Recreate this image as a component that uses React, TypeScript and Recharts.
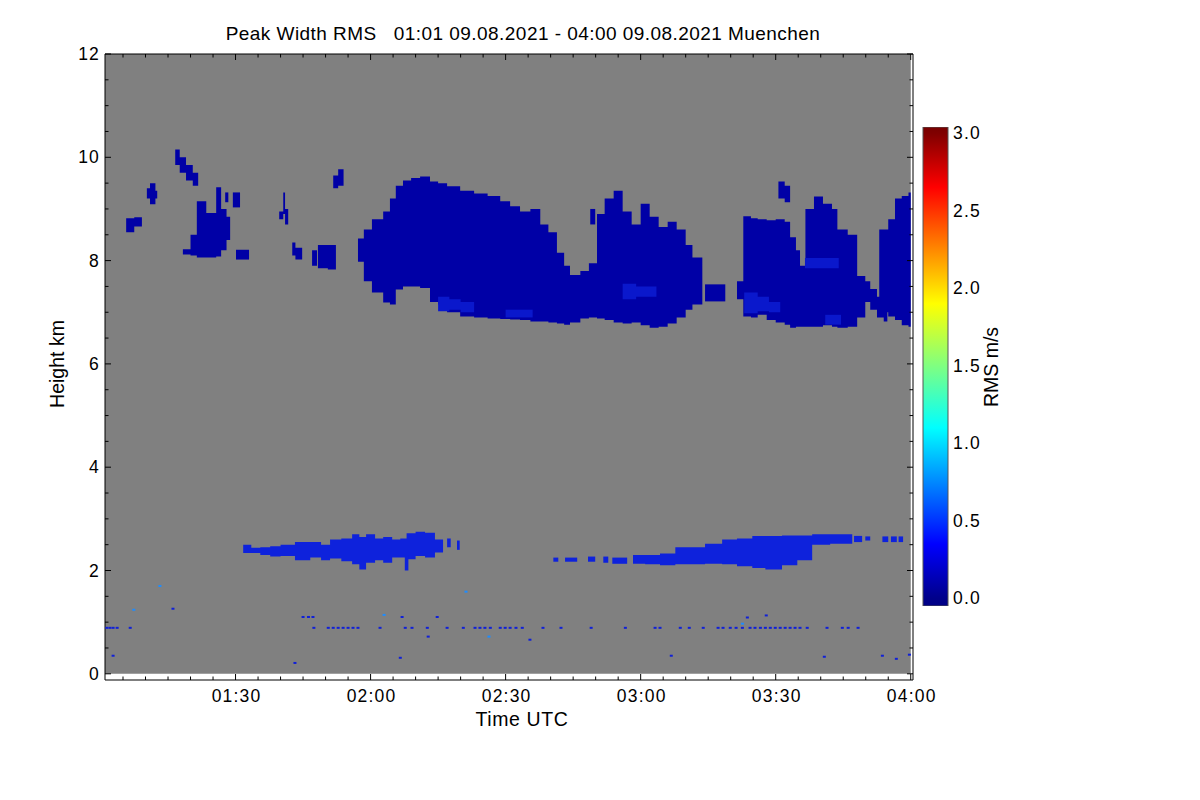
import { Area, Bar, BarChart, ComposedChart, Scatter, XAxis, YAxis } from 'recharts';

// rows are [minute after 00:00 UTC, base km, top km]; a lone [minute] closes the piece
type Row = number[];

const FONT = '"Liberation Sans", Arial, Helvetica, sans-serif';
const GRAY = '#808080';
const CLOUD = '#0000a6';
const BRIGHT = '#0a18cc';
const LOW = '#0e22dc';
const DOT = '#1020d8';
const DOT_LIGHT = '#1e8cff';

const timeTicks = [65, 70, 75, 80, 85, 90, 95, 100, 105, 110, 115, 120, 125, 130, 135, 140, 145, 150, 155, 160, 165, 170, 175, 180, 185, 190, 195, 200, 205, 210, 215, 220, 225, 230, 235, 240];
const heightTicks = [0, 0.5, 1, 1.5, 2, 2.5, 3, 3.5, 4, 4.5, 5, 5.5, 6, 6.5, 7, 7.5, 8, 8.5, 9, 9.5, 10, 10.5, 11, 11.5, 12];
const rmsTicks = [0, 0.5, 1, 1.5, 2, 2.5, 3];

const background: Row[] = [[61, 0, 12], [240]];

// upper cloud layer, 7-10 km
const cellA: Row[] = [[65.7, 8.55, 8.82], [67.5, 8.66, 8.84], [69.2]];
const cellB: Row[] = [[70.3, 9.2, 9.4], [71, 9.09, 9.5], [72.2, 9.2, 9.35], [72.6]];
const streakC: Row[] = [[76.6, 9.85, 10.15], [77.6, 9.7, 10.0], [79, 9.55, 9.85], [80.5, 9.45, 9.7], [81.7]];
const cellD: Row[] = [[78.3, 8.12, 8.22], [80, 8.1, 8.5], [81.4, 8.06, 9.15], [83.5, 8.06, 8.92], [85.7, 8.08, 9.42], [86.8, 8.2, 9.0], [88, 8.4, 8.85], [88.8]];
const cellD2: Row[] = [[87.7, 9.13, 9.32], [88.4]];
const cellE2: Row[] = [[89.4, 9.03, 9.32], [91]];
const cellF2: Row[] = [[90.1, 8.02, 8.21], [93]];
const streakE: Row[] = [[99.7, 8.8, 8.95], [100.6, 8.9, 9.32], [101, 8.7, 9.0], [101.7]];
const cellF: Row[] = [[102.6, 8.1, 8.35], [103.3, 8.02, 8.25], [104.8]];
const cellF3: Row[] = [[107, 7.9, 8.2], [108.1]];
const cellG: Row[] = [[108.3, 7.85, 8.3], [110.5, 7.83, 8.3], [112.3]];
const cellH: Row[] = [[111.7, 9.4, 9.65], [112.8, 9.45, 9.77], [114]];
const mainCloud: Row[] = [
    [117.2, 7.98, 8.43], [118.5, 7.6, 8.6], [120.3, 7.38, 8.8], [122.8, 7.19, 8.95], [124.3, 7.15, 9.2],
    [125.6, 7.44, 9.45], [127.2, 7.5, 9.55], [129, 7.5, 9.6], [131, 7.47, 9.63], [133.2, 7.2, 9.53],
    [135, 7.15, 9.5], [137, 7.0, 9.44], [139.9, 6.92, 9.35], [143, 6.9, 9.3], [146, 6.88, 9.25],
    [148.8, 6.87, 9.15], [151, 6.86, 9.05], [153.2, 6.85, 8.95], [155.5, 6.82, 9.0], [157.7, 6.82, 8.7],
    [159.5, 6.8, 8.55], [161.4, 6.78, 8.15], [163, 6.76, 7.9], [164.3, 6.8, 7.72], [166.6, 6.88, 7.8],
    [168.5, 6.9, 7.95], [170.3, 6.88, 8.9], [172, 6.85, 9.2], [174, 6.8, 9.35], [176, 6.78, 8.95],
    [178, 6.8, 8.7], [180, 6.75, 9.1], [182, 6.7, 8.85], [184, 6.72, 8.65], [186, 6.78, 8.75],
    [188, 6.9, 8.6], [190, 7.05, 8.3], [191.5, 7.15, 8.06], [193.7],
];
const cellJ: Row[] = [[168.8, 8.7, 9.0], [169.9]];
const cellI: Row[] = [[194.3, 7.21, 7.54], [198.8]];
const eastCloud: Row[] = [
    [201.4, 7.25, 7.6], [202.8, 6.92, 8.86], [204.5, 6.9, 8.82], [206, 6.95, 8.8], [208, 6.85, 8.78],
    [210, 6.8, 8.8], [212, 6.76, 8.75], [213.2, 6.7, 8.45], [214.5, 6.72, 8.2], [215.4, 6.72, 7.9],
    [216.6, 6.72, 9.0], [218.5, 6.72, 9.24], [220.5, 6.75, 9.1], [222.5, 6.72, 9.0], [223.7, 6.7, 8.6],
    [226, 6.72, 8.5], [228.1, 6.9, 7.7], [229.9],
];
const eastTop: Row[] = [[210.6, 9.2, 9.53], [212, 9.13, 9.45], [213.2]];
const eastStreak: Row[] = [[229.5, 7.2, 7.6], [231, 7.05, 7.45], [232.5, 6.9, 7.3], [234, 6.82, 7.1], [234.8]];
const edgeCloud: Row[] = [[233, 7.0, 8.6], [235, 6.92, 8.8], [236.5, 6.85, 9.2], [238, 6.75, 9.25], [239.5, 6.72, 9.32], [240]];

// brighter patches near the cloud base
const patch1: Row[] = [[135, 7.02, 7.3], [137.5, 7.05, 7.25], [140, 7.0, 7.2], [143]];
const patch2: Row[] = [[150, 6.9, 7.05], [156]];
const patch3: Row[] = [[176, 7.25, 7.55], [179, 7.3, 7.5], [183.5]];
const patch4: Row[] = [[203, 6.98, 7.38], [206, 7.02, 7.3], [208.5, 7.0, 7.2], [211]];
const patch5: Row[] = [[216.5, 7.85, 8.05], [224]];
const patch6: Row[] = [[221, 6.76, 6.95], [224.5]];

// lower layer, 2-2.8 km
const lowBand1: Row[] = [
    [91.7, 2.34, 2.5], [93.5, 2.34, 2.44], [95.5, 2.3, 2.45], [97.7, 2.27, 2.47], [100, 2.28, 2.5],
    [103.2, 2.2, 2.55], [106.6, 2.25, 2.55], [109, 2.2, 2.5], [111, 2.23, 2.6], [113.5, 2.18, 2.62],
    [115.9, 2.12, 2.7], [117.5, 2.02, 2.65], [119, 2.15, 2.7], [121, 2.2, 2.62], [122.8, 2.15, 2.65],
    [124.8, 2.25, 2.6], [126.6, 2.25, 2.62], [128, 2.22, 2.72], [130, 2.28, 2.75], [132.1, 2.25, 2.73],
    [134.3, 2.35, 2.6], [136.1],
];
const lowSpike: Row[] = [[127.6, 2.0, 2.3], [128.4]];
const lowBit1: Row[] = [[137, 2.45, 2.62], [137.8]];
const lowBit2: Row[] = [[139.2, 2.4, 2.58], [139.8]];
const lowBit3: Row[] = [[160.6, 2.17, 2.25], [161.7]];
const lowBit4: Row[] = [[163.2, 2.17, 2.25], [165.9]];
const lowBit5: Row[] = [[168.3, 2.17, 2.27], [169.9]];
const lowBit6: Row[] = [[171.7, 2.15, 2.27], [172.8]];
const lowBit7: Row[] = [[173.7, 2.13, 2.25], [177]];
const lowBand2: Row[] = [
    [178.3, 2.13, 2.3], [181, 2.12, 2.3], [184.3, 2.1, 2.33], [187.7, 2.12, 2.45], [191, 2.12, 2.45],
    [194.3, 2.13, 2.52], [198.1, 2.12, 2.6], [201.4, 2.08, 2.62], [204.8, 2.05, 2.67], [207.7, 2.02, 2.67],
    [211.4, 2.1, 2.68], [214.8, 2.2, 2.68], [218.1, 2.5, 2.7], [222.1, 2.52, 2.7], [227],
];
const lowBit8: Row[] = [[227.4, 2.55, 2.67], [229.2]];
const lowBit9: Row[] = [[229.9, 2.58, 2.66], [231]];
const lowBit10: Row[] = [[233.7, 2.55, 2.66], [235]];
const lowBit11: Row[] = [[235.6, 2.55, 2.66], [236.9]];
const lowBit12: Row[] = [[237.3, 2.55, 2.66], [238.3]];

// isolated returns
const rowMinutes = [
    61.4, 62.1, 62.8, 63.7, 66.6, 107.4, 110.6, 111.7, 112.8, 113.9, 115, 116.1, 117.2, 122.1, 127.7,
    129.2, 132.6, 137, 140.6, 143.2, 144.3, 145.4, 146.6, 148.8, 149.9, 151, 152.3, 153.7, 158.3, 162.3,
    169, 176.6, 183.2, 184.3, 188.8, 190.8, 193.9, 197.2, 198.3, 199.9, 201.2, 202.6, 204.3, 205.4, 206.6,
    207.7, 208.8, 209.9, 211, 212.1, 213.2, 214.3, 215.4, 217, 221.4, 224.8, 226.1, 228.3,
];
const rowKm = 0.89;
const strayMinutes = [62.8, 76.1, 103.2, 105, 106.2, 107.2, 126.6, 127, 132.8, 134.8, 155.4, 186.8, 203.7, 207.9, 220.8, 233.7, 236.8, 239.7];
const strayKm = [0.35, 1.26, 0.21, 1.1, 1.1, 1.1, 0.31, 1.1, 0.72, 1.1, 0.66, 0.35, 1.09, 1.13, 0.33, 0.35, 0.29, 0.37];
const lightMinutes = [67.4, 73.2, 123, 141.2, 146.3, 202.6];
const lightKm = [1.24, 1.7, 1.14, 1.59, 0.72, 0.97];

const layers: { key: string; rows: Row[]; fill: string }[] = [
    { key: 'bg', rows: background, fill: GRAY },
    { key: 'cellA', rows: cellA, fill: CLOUD },
    { key: 'cellB', rows: cellB, fill: CLOUD },
    { key: 'streakC', rows: streakC, fill: CLOUD },
    { key: 'cellD', rows: cellD, fill: CLOUD },
    { key: 'cellD2', rows: cellD2, fill: CLOUD },
    { key: 'cellE2', rows: cellE2, fill: CLOUD },
    { key: 'cellF2', rows: cellF2, fill: CLOUD },
    { key: 'streakE', rows: streakE, fill: CLOUD },
    { key: 'cellF', rows: cellF, fill: CLOUD },
    { key: 'cellF3', rows: cellF3, fill: CLOUD },
    { key: 'cellG', rows: cellG, fill: CLOUD },
    { key: 'cellH', rows: cellH, fill: CLOUD },
    { key: 'mainCloud', rows: mainCloud, fill: CLOUD },
    { key: 'cellJ', rows: cellJ, fill: CLOUD },
    { key: 'cellI', rows: cellI, fill: CLOUD },
    { key: 'eastCloud', rows: eastCloud, fill: CLOUD },
    { key: 'eastTop', rows: eastTop, fill: CLOUD },
    { key: 'eastStreak', rows: eastStreak, fill: CLOUD },
    { key: 'edgeCloud', rows: edgeCloud, fill: CLOUD },
    { key: 'patch1', rows: patch1, fill: BRIGHT },
    { key: 'patch2', rows: patch2, fill: BRIGHT },
    { key: 'patch3', rows: patch3, fill: BRIGHT },
    { key: 'patch4', rows: patch4, fill: BRIGHT },
    { key: 'patch5', rows: patch5, fill: BRIGHT },
    { key: 'patch6', rows: patch6, fill: BRIGHT },
    { key: 'lowBand1', rows: lowBand1, fill: LOW },
    { key: 'lowSpike', rows: lowSpike, fill: LOW },
    { key: 'lowBit1', rows: lowBit1, fill: LOW },
    { key: 'lowBit2', rows: lowBit2, fill: LOW },
    { key: 'lowBit3', rows: lowBit3, fill: LOW },
    { key: 'lowBit4', rows: lowBit4, fill: LOW },
    { key: 'lowBit5', rows: lowBit5, fill: LOW },
    { key: 'lowBit6', rows: lowBit6, fill: LOW },
    { key: 'lowBit7', rows: lowBit7, fill: LOW },
    { key: 'lowBand2', rows: lowBand2, fill: LOW },
    { key: 'lowBit8', rows: lowBit8, fill: LOW },
    { key: 'lowBit9', rows: lowBit9, fill: LOW },
    { key: 'lowBit10', rows: lowBit10, fill: LOW },
    { key: 'lowBit11', rows: lowBit11, fill: LOW },
    { key: 'lowBit12', rows: lowBit12, fill: LOW },
];

// one row per breakpoint; each piece holds its step value until its next breakpoint
function buildTable() {
    const times = Array.from(new Set(layers.flatMap((l) => l.rows.map((r) => r[0])))).sort((a, b) => a - b);
    return times.map((t) => {
        const row: Record<string, unknown> = { t };
        for (const { key, rows } of layers) {
            if (t < rows[0][0] || t > rows[rows.length - 1][0]) continue;
            let lo = rows[0][1];
            let hi = rows[0][2];
            for (const r of rows) {
                if (r[0] > t) break;
                if (r.length === 3) {
                    lo = r[1];
                    hi = r[2];
                }
            }
            row[key] = [lo, hi];
        }
        return row;
    });
}

const table = buildTable();
const rowDots = rowMinutes.map((t) => ({ t, km: rowKm }));
const strayDots = strayMinutes.map((t, i) => ({ t, km: strayKm[i] }));
const lightDots = lightMinutes.map((t, i) => ({ t, km: lightKm[i] }));
const scale = [{ c: 'rms', v: [-0.05, 3.04] }];

const hhmm = (m: number) => `${String(Math.floor(m / 60)).padStart(2, '0')}:${String(m % 60).padStart(2, '0')}`;

const TICK_FONT = { fontSize: 17.5, letterSpacing: 1.2, fill: '#000', fontFamily: FONT };

function TimeTick(props: any) {
    const { x, y, payload, side } = props;
    const major = payload.value % 30 === 0;
    const len = major ? 6 : 3.5;
    const dir = side === 'top' ? 1 : -1;
    return (
        <g>
            <line x1={x} x2={x} y1={y} y2={y + dir * len} stroke="#000" />
            {side === 'bottom' && major ? (
                <text x={x + 1} y={y + 22} textAnchor="middle" {...TICK_FONT}>
                    {hhmm(payload.value)}
                </text>
            ) : null}
        </g>
    );
}

function HeightTick(props: any) {
    const { x, y, payload, side } = props;
    const major = payload.value % 2 === 0;
    const len = major ? 6 : 3.5;
    const dir = side === 'left' ? 1 : -1;
    return (
        <g>
            <line x1={x} x2={x + dir * len} y1={y} y2={y} stroke="#000" />
            {side === 'left' && major ? (
                <text x={x - 5} y={y + 6} textAnchor="end" {...TICK_FONT}>
                    {payload.value}
                </text>
            ) : null}
        </g>
    );
}

const pixel = (color: string) => (p: any) => <rect x={p.cx - 1.5} y={p.cy - 1} width={3} height={2} fill={color} />;

const textStyle = { position: 'absolute' as const, fontFamily: FONT, fontSize: 19.5, color: '#000', whiteSpace: 'nowrap' as const, lineHeight: 1 };

export default function App() {
    return (
        <div style={{ position: 'absolute', left: 0, top: 0, width: 1200, height: 800, background: '#fff' }}>
            <div style={{ ...textStyle, left: 523, top: 33, transform: 'translate(-50%, -50%)', fontSize: 19, letterSpacing: 0.45 }}>
                Peak Width RMS&nbsp;&nbsp;&nbsp;01:01 09.08.2021 - 04:00 09.08.2021 Muenchen
            </div>
            <div style={{ position: 'absolute', left: 0, top: 0 }}>
                <ComposedChart width={1200} height={800} data={table} margin={{ top: 44, right: 277, bottom: 90, left: 45 }}>
                    <XAxis
                        xAxisId={0}
                        dataKey="t"
                        type="number"
                        domain={[61, 240.5]}
                        allowDataOverflow
                        ticks={timeTicks}
                        interval={0}
                        height={30}
                        tickSize={0}
                        tickMargin={0}
                        tickLine={false}
                        axisLine={{ stroke: '#000' }}
                        tick={<TimeTick side="bottom" />}
                    />
                    <XAxis
                        xAxisId="top"
                        orientation="top"
                        dataKey="t"
                        type="number"
                        domain={[61, 240.5]}
                        allowDataOverflow
                        ticks={timeTicks}
                        interval={0}
                        height={10}
                        tickSize={0}
                        tickMargin={0}
                        tickLine={false}
                        axisLine={{ stroke: '#000' }}
                        tick={<TimeTick side="top" />}
                    />
                    <YAxis
                        yAxisId={0}
                        type="number"
                        domain={[-0.12, 12]}
                        allowDataOverflow
                        ticks={heightTicks}
                        interval={0}
                        width={60}
                        tickSize={0}
                        tickMargin={0}
                        tickLine={false}
                        axisLine={{ stroke: '#000' }}
                        tick={<HeightTick side="left" />}
                    />
                    <YAxis
                        yAxisId="right"
                        orientation="right"
                        type="number"
                        domain={[-0.12, 12]}
                        allowDataOverflow
                        ticks={heightTicks}
                        interval={0}
                        width={10}
                        tickSize={0}
                        tickMargin={0}
                        tickLine={false}
                        axisLine={{ stroke: '#000' }}
                        tick={<HeightTick side="right" />}
                    />
                    {layers.map((l) => (
                        <Area
                            key={l.key}
                            xAxisId={0}
                            yAxisId={0}
                            type="stepAfter"
                            dataKey={l.key}
                            stroke="none"
                            fill={l.fill}
                            fillOpacity={1}
                            dot={false}
                            activeDot={false}
                            isAnimationActive={false}
                        />
                    ))}
                    <Scatter xAxisId={0} yAxisId={0} data={rowDots} dataKey="km" shape={pixel(DOT)} isAnimationActive={false} />
                    <Scatter xAxisId={0} yAxisId={0} data={strayDots} dataKey="km" shape={pixel(DOT)} isAnimationActive={false} />
                    <Scatter xAxisId={0} yAxisId={0} data={lightDots} dataKey="km" shape={pixel(DOT_LIGHT)} isAnimationActive={false} />
                </ComposedChart>
            </div>
            <div style={{ position: 'absolute', left: 900, top: 100 }}>
                <BarChart width={120} height={530} data={scale} margin={{ top: 27, right: 12, bottom: 24, left: 23 }} barCategoryGap={0}>
                    <defs>
                        <linearGradient id="jet" x1="0" y1="0" x2="0" y2="1">
                            <stop offset="0" stopColor="#780000" />
                            <stop offset="0.013" stopColor="#800000" />
                            <stop offset="0.126" stopColor="#ff0000" />
                            <stop offset="0.369" stopColor="#ffff00" />
                            <stop offset="0.498" stopColor="#80ff80" />
                            <stop offset="0.628" stopColor="#00ffff" />
                            <stop offset="0.871" stopColor="#0000ff" />
                            <stop offset="0.984" stopColor="#00008a" />
                            <stop offset="1" stopColor="#000086" />
                        </linearGradient>
                    </defs>
                    <XAxis dataKey="c" hide />
                    <YAxis
                        orientation="right"
                        type="number"
                        domain={[-0.05, 3.04]}
                        allowDataOverflow
                        ticks={rmsTicks}
                        interval={0}
                        width={60}
                        tickSize={0}
                        tickMargin={5}
                        tickLine={false}
                        axisLine={false}
                        tickFormatter={(v: number) => v.toFixed(1)}
                        tick={TICK_FONT}
                    />
                    <Bar dataKey="v" fill="url(#jet)" stroke="#555" strokeWidth={1} isAnimationActive={false} />
                </BarChart>
            </div>
            <div style={{ ...textStyle, left: 58, top: 364, transform: 'translate(-50%, -50%) rotate(-90deg)' }}>Height km</div>
            <div style={{ ...textStyle, left: 522, top: 720, transform: 'translate(-50%, -50%)', letterSpacing: 0.6 }}>Time UTC</div>
            <div style={{ ...textStyle, left: 992, top: 367, transform: 'translate(-50%, -50%) rotate(-90deg)' }}>RMS m/s</div>
        </div>
    );
}
